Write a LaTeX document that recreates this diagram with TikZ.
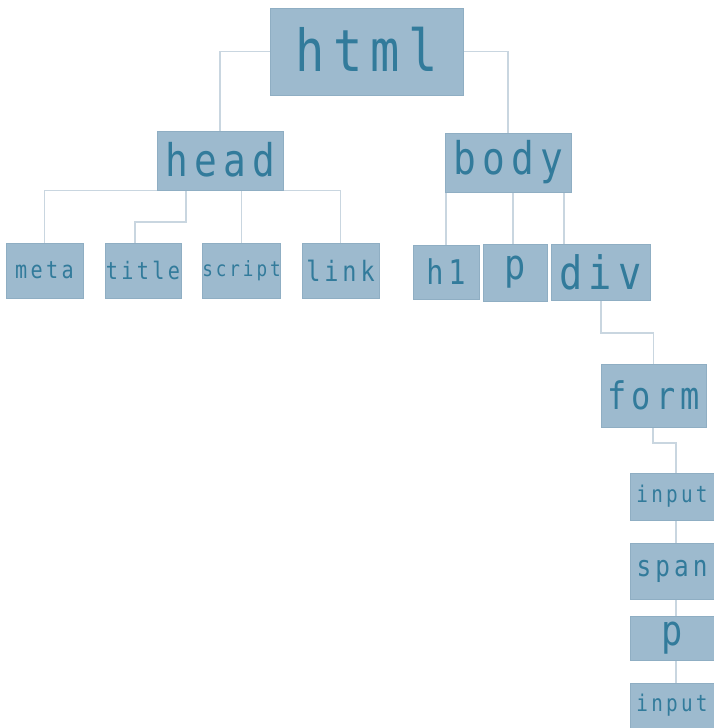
\documentclass[tikz,border=0pt]{standalone}
\usepackage{fontspec}
\setmonofont[FakeStretch=0.84,LetterSpace=14]{DejaVu Sans Mono}
\usetikzlibrary{backgrounds}
\definecolor{boxfill}{HTML}{9DBACE}
\definecolor{boxedge}{HTML}{8FAEC3}
\definecolor{boxtext}{HTML}{327B9B}
\definecolor{linkline}{HTML}{C9D6E0}
\tikzset{
  tag/.style={rectangle, fill=boxfill, draw=boxedge, line width=0.6pt, text=boxtext, inner sep=0pt, font=\ttfamily},
  wire/.style={draw=linkline, line width=1.1pt}
}
\newcommand{\fs}[1]{\fontsize{#1}{#1}\selectfont}
\begin{document}
\begin{tikzpicture}[x=1pt,y=-1pt]
\useasboundingbox (0,0) rectangle (714,728);
\node[tag, minimum width=193pt, minimum height=87pt] (html) at (366.5,51.5) {\fs{58}\raisebox{5pt}{html}};
\node[tag, minimum width=126pt, minimum height=59pt] (head) at (220,160.5) {\fs{45}\raisebox{2pt}{head}};
\node[tag, minimum width=126pt, minimum height=59pt] (body) at (508,162.5) {\fs{45}\raisebox{1pt}{body}};
\node[tag, minimum width=77pt, minimum height=55pt] (meta) at (44.5,270.5) {\fs{24}meta};
\node[tag, minimum width=76pt, minimum height=55pt] (title) at (143,270.5) {\fs{24}title};
\node[tag, minimum width=77pt, minimum height=55pt] (script) at (241.5,270.5) {\fs{21}script};
\node[tag, minimum width=77pt, minimum height=55pt] (link) at (340.5,270.5) {\fs{28}link};
\node[tag, minimum width=66pt, minimum height=54pt] (h1) at (446,272) {\fs{34}h1};
\node[tag, minimum width=64pt, minimum height=57pt] (p) at (515,272.5) {\fs{42}p};
\node[tag, minimum width=99pt, minimum height=56pt] (div) at (600.5,272) {\fs{46}div};
\node[tag, minimum width=105pt, minimum height=63pt] (form) at (653.5,395.5) {\fs{38}form};
\node[tag, minimum width=84pt, minimum height=47pt] (input) at (672,496.5) {\fs{23}input};
\node[tag, minimum width=84pt, minimum height=56pt] (span) at (672,571) {\fs{29}span};
\node[tag, minimum width=84pt, minimum height=44pt] (p2) at (672,638) {\fs{42}p};
\node[tag, minimum width=84pt, minimum height=45pt] (input2) at (672,705.5) {\fs{23}input};
\coordinate (tA) at (186,190);
\coordinate (tB) at (135,222);
\coordinate (pA) at (513,192);
\coordinate (dvA) at (564,192);
\coordinate (dA) at (601,300);
\coordinate (dB) at (601,333);
\coordinate (fA) at (653,427);
\coordinate (fB) at (653,443);
\coordinate (iA) at (676,473);
\begin{scope}[on background layer]
\draw[wire] (html.west) -| (head.north);
\draw[wire] (html.east) -| (body.north);
\draw[wire] (head.south west) -| (meta.north);
\draw[wire] (head.south east) -| (link.north);
\draw[wire] (script.north |- head.south) -- (script.north);
\draw[wire] (tA) |- (tB) -- (tB |- title.north);
\draw[wire] (h1.north |- body.south) -- (h1.north);
\draw[wire] (pA) -- (pA |- p.north);
\draw[wire] (dvA) -- (dvA |- div.north);
\draw[wire] (dA) -- (dB) -| (form.north);
\draw[wire] (fA) -- (fB) -| (iA);
\draw[wire] (iA |- input.south) -- (iA |- span.north);
\draw[wire] (iA |- span.south) -- (iA |- p2.north);
\draw[wire] (iA |- p2.south) -- (iA |- input2.north);
\end{scope}
\end{tikzpicture}
\end{document}
